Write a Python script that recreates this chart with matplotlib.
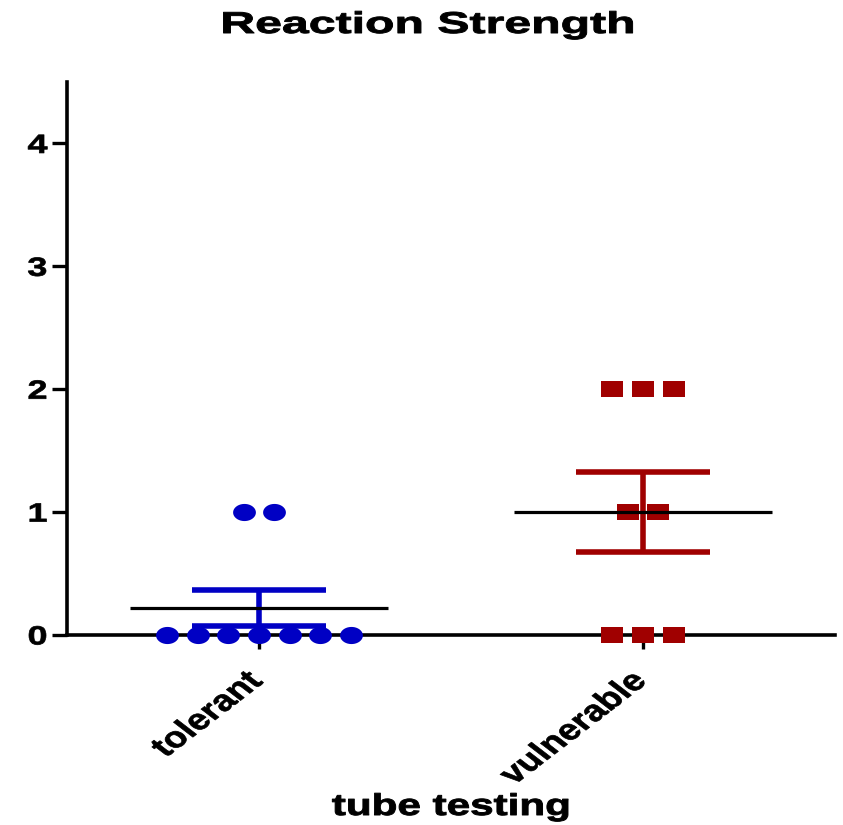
import numpy as np
import matplotlib
matplotlib.use("Agg")
import matplotlib.pyplot as plt
from matplotlib.patheffects import AbstractPathEffect
from matplotlib.transforms import Affine2D, ScaledTranslation

# data
categories = ["tolerant", "vulnerable"]
tolerant = [0, 0, 0, 0, 0, 0, 0, 1, 1]
vulnerable = [2, 2, 2, 1, 1, 0, 0, 0]
groups = [tolerant, vulnerable]
colors = ["#0000C4", "#A00000"]

plt.rcParams["font.family"] = ["Liberation Sans", "DejaVu Sans"]
plt.rcParams["font.weight"] = "bold"


class HStretch(AbstractPathEffect):
    """Widen glyphs horizontally around the text anchor (reference is stretched)."""

    def __init__(self, txt, sx, lw=0.5):
        super().__init__()
        self.txt = txt
        self.sx = sx
        self.lw = lw

    def draw_path(self, renderer, gc, tpath, affine, rgbFace=None):
        cx = self.txt.get_transform().transform(self.txt.get_position())[0]
        st = Affine2D().translate(-cx, 0).scale(self.sx, 1).translate(cx, 0)
        gc0 = renderer.new_gc()
        gc0.copy_properties(gc)
        gc0.set_linewidth(self.lw)
        gc0.set_foreground("black")
        gc0.set_joinstyle("round")
        renderer.draw_path(gc0, tpath, affine + st, rgbFace)
        gc0.restore()


def stretch(txt, sx, lw=0.5):
    txt.set_path_effects([HStretch(txt, sx, lw)])


# markers look horizontally stretched in the reference
t = np.linspace(0, 2 * np.pi, 40)
ellipse = np.column_stack([1.33 * np.cos(t), np.sin(t)])
rect = np.array([[-1.35, -1], [1.35, -1], [1.35, 1], [-1.35, 1], [-1.35, -1]])
markers = [ellipse, rect]

fig = plt.figure(figsize=(8.43, 8.25), dpi=100)
ax = fig.add_axes([0.0795, 0.2303, 0.911, 0.6703])

step = 0.08
for i, vals in enumerate(groups):
    vals = np.asarray(vals, dtype=float)
    xs = np.empty_like(vals)
    for v in np.unique(vals):
        idx = np.where(vals == v)[0]
        n = len(idx)
        xs[idx] = i + (np.arange(n) - (n - 1) / 2) * step
    ax.scatter(xs, vals, marker=markers[i], s=270, color=colors[i],
               linewidths=0, zorder=4, clip_on=False)

    m = vals.mean()
    sem = vals.std(ddof=1) / np.sqrt(len(vals))
    ax.vlines(i, m - sem, m + sem, color=colors[i], lw=4, zorder=5)
    ax.hlines([m - sem, m + sem], i - 0.175, i + 0.175, color=colors[i], lw=4, zorder=5)
    ax.hlines(m, i - 0.335, i + 0.335, color="black", lw=2.3, zorder=6)

ax.set_xlim(-0.5, 1.5)
ax.set_ylim(0, 4.5)
ax.set_yticks([0, 1, 2, 3, 4])
ax.set_xticks([0, 1])
ax.set_xticklabels(categories, rotation=45, ha="right", va="top",
                   rotation_mode="anchor", fontsize=21, fontweight="bold")
ax.tick_params(axis="y", labelsize=19, width=2.4, length=10.5, direction="out", pad=3.6)
ax.tick_params(axis="x", width=2.4, length=10, direction="out", pad=10)
for s in ["top", "right"]:
    ax.spines[s].set_visible(False)
for s in ["left", "bottom"]:
    ax.spines[s].set_linewidth(2.6)
    ax.spines[s].set_zorder(3)

shift = ScaledTranslation(-11 / 72, -3 / 72, fig.dpi_scale_trans)
for lbl in ax.get_xticklabels():
    lbl.set_transform(lbl.get_transform() + shift)
    stretch(lbl, 1.3)
for lbl in ax.get_yticklabels():
    lbl.set_fontweight("bold")
    stretch(lbl, 1.36)

title = fig.text(427.5 / 843, 1 - 33 / 825, "Reaction Strength", ha="center",
                 va="baseline", fontsize=21.7, fontweight="bold")
stretch(title, 1.6, 0.7)
xlab = fig.text(451 / 843, 1 - 815 / 825, "tube testing", ha="center",
                va="baseline", fontsize=21.7, fontweight="bold")
stretch(xlab, 1.4, 0.7)

fig.savefig("out.png", dpi=100)
